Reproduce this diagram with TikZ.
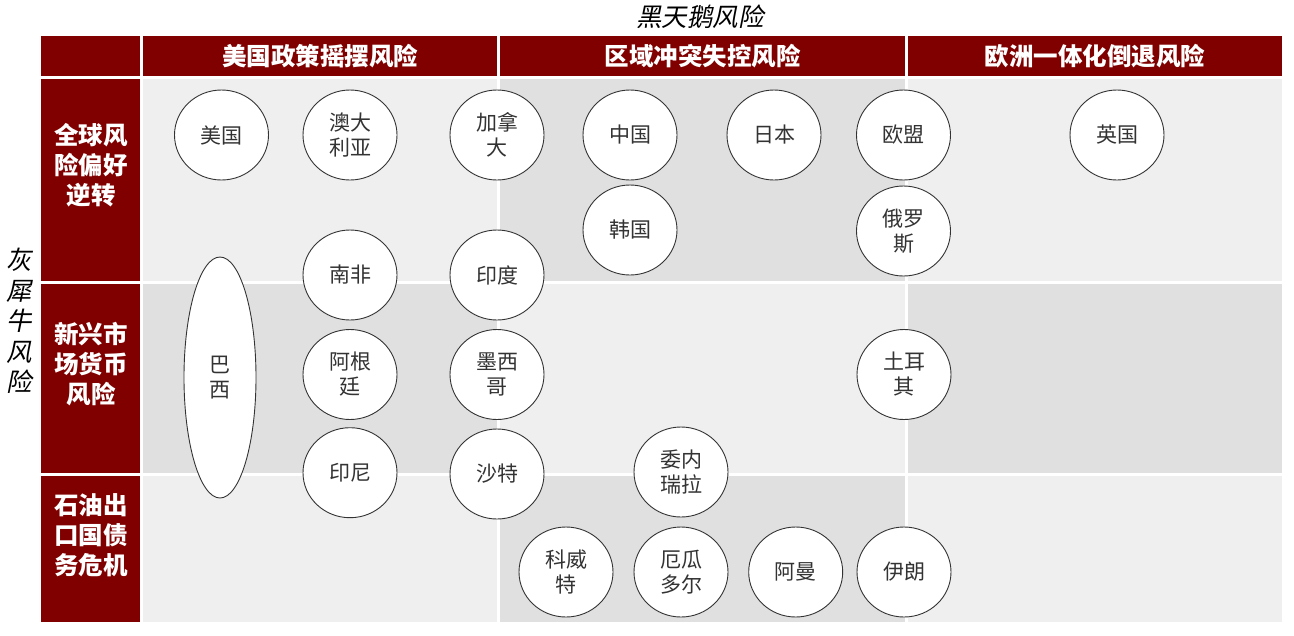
\documentclass[tikz,border=0pt]{standalone}
\usepackage{fontspec}
\usetikzlibrary{shapes.geometric}
\setmainfont{Liberation Serif}
\newfontfamily\cjk{Noto Sans CJK SC}
\newfontfamily\cjkslant[FakeSlant=0.2]{Noto Sans CJK SC}
\definecolor{hdr}{HTML}{800000}
\definecolor{lt}{HTML}{EFEFEF}
\definecolor{dk}{HTML}{E0E0E0}
\definecolor{ctext}{HTML}{333333}
\begin{document}
\begin{tikzpicture}[x=1pt,y=-1pt,
  hdrbox/.style={fill=hdr, text=white, inner sep=0, align=center,
    font=\cjk\bfseries\fontsize{24.5}{30}\selectfont},
  rowlbl/.style={text=white, inner sep=0, align=center,
    font=\cjk\bfseries\fontsize{24.5}{30}\selectfont},
  axislbl/.style={inner sep=0, align=center, text=black,
    font=\cjkslant\fontsize{25.5}{30.5}\selectfont},
  country/.style={ellipse, draw=black!80, line width=0.9pt, fill=white,
    minimum width=94pt, minimum height=90pt, inner sep=0, align=center,
    text=ctext, font=\cjk\fontsize{21}{25}\selectfont},
]
\useasboundingbox[fill=white] (0,0) rectangle (1294,635);

% body cells (checkerboard)
\fill[lt] (143,79) rectangle (497,281);
\fill[dk] (500,79) rectangle (905,281);
\fill[lt] (908,79) rectangle (1282,281);
\fill[dk] (143,284) rectangle (497,473);
\fill[lt] (500,284) rectangle (905,473);
\fill[dk] (908,284) rectangle (1282,473);
\fill[lt] (143,476) rectangle (497,622);
\fill[dk] (500,476) rectangle (905,622);
\fill[lt] (908,476) rectangle (1282,622);

% header row
\node[hdrbox, minimum width=99pt, minimum height=40pt] (corner) at (90.5,56) {};
\node[hdrbox, minimum width=354pt, minimum height=40pt] (h1) at (320,56) {美国政策摇摆风险};
\node[hdrbox, minimum width=405pt, minimum height=40pt] (h2) at (702.5,56) {区域冲突失控风险};
\node[hdrbox, minimum width=374pt, minimum height=40pt] (h3) at (1095,56) {欧洲一体化倒退风险};

% row label cells
\fill[hdr] (41,79) rectangle (140,281);
\fill[hdr] (41,284) rectangle (140,473);
\fill[hdr] (41,476) rectangle (140,622);
\node[rowlbl] (r1) at (91,165) {全球风\\险偏好\\逆转};
\node[rowlbl] (r2) at (91,364) {新兴市\\场货币\\风险};
\node[rowlbl] (r3) at (91,535) {石油出\\口国债\\务危机};

% axis labels
\node[axislbl] (top) at (700,17) {黑天鹅风险};
\node[axislbl] (left) at (19,321) {灰\\犀\\牛\\风\\险};

% countries
\node[country] (us) at (221.5,135) {美国};
\node[country] (au) at (350,135) {澳大\\利亚};
\node[country] (ca) at (497,135) {加拿\\大};
\node[country] (cn) at (630,135) {中国};
\node[country] (jp) at (774,135) {日本};
\node[country] (eu) at (903.5,135) {欧盟};
\node[country] (uk) at (1117,135) {英国};
\node[country] (kr) at (630,230) {韩国};
\node[country] (ru) at (903.5,231) {俄罗\\斯};
\node[country] (za) at (350,275) {南非};
\node[country] (in) at (497,275) {印度};
\node[country, minimum width=72pt, minimum height=241pt] (br) at (220,377.5) {巴\\西};
\node[country] (ar) at (350,374.5) {阿根\\廷};
\node[country] (mx) at (497,374.5) {墨西\\哥};
\node[country] (tr) at (904,374.5) {土耳\\其};
\node[country] (id) at (350,472.7) {印尼};
\node[country] (sa) at (497,474) {沙特};
\node[country] (ve) at (681,472) {委内\\瑞拉};
\node[country] (kw) at (566,572) {科威\\特};
\node[country] (ec) at (681,572) {厄瓜\\多尔};
\node[country] (om) at (795.7,572) {阿曼};
\node[country] (ir) at (904,572) {伊朗};
\end{tikzpicture}
\end{document}
